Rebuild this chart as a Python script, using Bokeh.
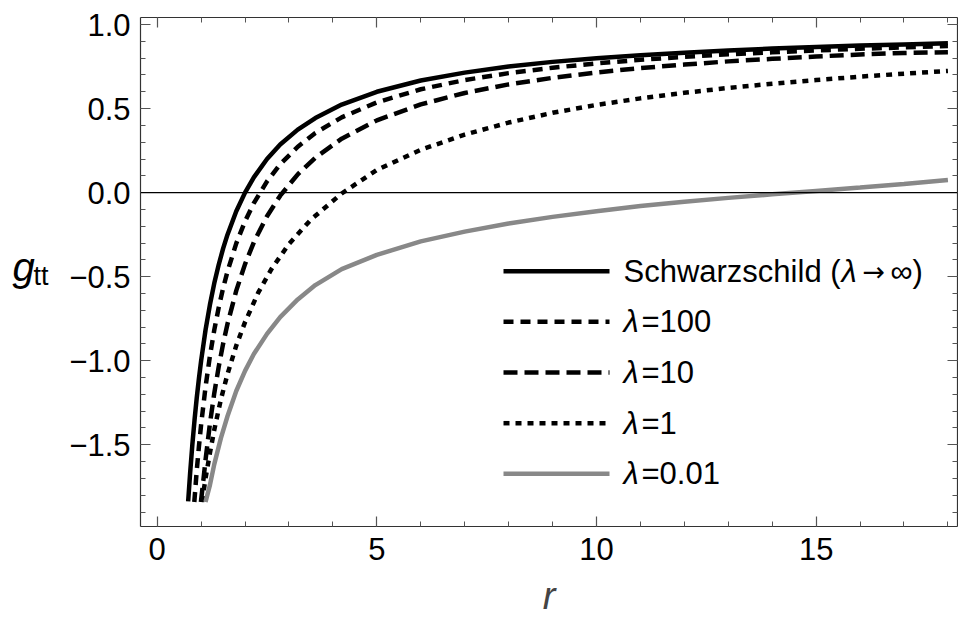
from bokeh.plotting import figure
from bokeh.layouts import row
from bokeh.models import (Range1d, LinearAxis, SingleIntervalTicker, Span, Label, Arrow,
                          CustomJSTickFormatter)
from bokeh.core.properties import value
from bokeh.embed import file_html
from bokeh.resources import INLINE

# ---- data ----
r_schw = [0.705, 0.75, 0.8, 0.85, 0.9, 0.95, 1.0, 1.1, 1.2, 1.3, 1.4, 1.5, 1.6, 1.8, 2.0,
          2.2, 2.5, 2.8, 3.2, 3.6, 4.2, 5, 6, 7, 8, 9, 10, 11, 12, 13, 14, 15, 16, 17, 18]
g_schw = [-1.837, -1.667, -1.5, -1.353, -1.222, -1.105, -1.0, -0.818, -0.667, -0.538, -0.429,
          -0.333, -0.25, -0.111, 0.0, 0.091, 0.2, 0.286, 0.375, 0.444, 0.524, 0.6, 0.667,
          0.714, 0.75, 0.778, 0.8, 0.818, 0.833, 0.846, 0.857, 0.867, 0.875, 0.882, 0.889]

r_100 = [0.845, 0.9, 0.95, 1.0, 1.1, 1.2, 1.3, 1.4, 1.5, 1.6, 1.8, 2.0, 2.2, 2.5, 2.8, 3.2,
         3.6, 4.2, 5, 6, 7, 8, 9, 10, 11, 12, 13, 14, 15, 16, 17, 18]
g_100 = [-1.84, -1.654, -1.51, -1.38, -1.157, -0.972, -0.816, -0.684, -0.569, -0.469, -0.302,
         -0.17, -0.062, 0.067, 0.169, 0.273, 0.355, 0.448, 0.537, 0.615, 0.670, 0.711, 0.743,
         0.769, 0.790, 0.808, 0.823, 0.835, 0.846, 0.856, 0.864, 0.872]

r_10 = [0.995, 1.05, 1.1, 1.2, 1.3, 1.4, 1.5, 1.6, 1.8, 2.0, 2.2, 2.5, 2.8, 3.2, 3.6, 4.2,
        5, 6, 7, 8, 9, 10, 11, 12, 13, 14, 15, 16, 17, 18]
g_10 = [-1.84, -1.714, -1.591, -1.375, -1.192, -1.036, -0.9, -0.781, -0.583, -0.425, -0.295,
        -0.14, -0.018, 0.109, 0.208, 0.321, 0.43, 0.525, 0.593, 0.644, 0.683, 0.715, 0.741,
        0.762, 0.781, 0.796, 0.81, 0.822, 0.831, 0.836]

r_1 = [1.02, 1.1, 1.2, 1.3, 1.45, 1.6, 1.8, 2.0, 2.3, 2.6, 3.0, 3.5, 4.2, 5, 6, 7, 8, 9, 10,
       11, 12, 13, 14, 15, 16, 17, 18]
g_1 = [-1.84, -1.70, -1.55, -1.41, -1.23, -1.08, -0.91, -0.77, -0.595, -0.455, -0.305, -0.16,
       -0.005, 0.135, 0.255, 0.345, 0.417, 0.475, 0.522, 0.561, 0.594, 0.623, 0.648, 0.670,
       0.690, 0.708, 0.724]

r_001 = [1.1, 1.2, 1.3, 1.45, 1.6, 1.8, 2.0, 2.2, 2.5, 2.8, 3.2, 3.6, 4.2, 5, 6, 7, 8, 9, 10,
         11, 12, 13, 14, 15, 16, 17, 18]
g_001 = [-1.84, -1.74, -1.615, -1.46, -1.33, -1.18, -1.06, -0.96, -0.84, -0.74, -0.635, -0.55,
         -0.455, -0.37, -0.29, -0.232, -0.184, -0.144, -0.11, -0.08, -0.054, -0.031, -0.01,
         0.01, 0.03, 0.052, 0.075]

lam_values = ["100", "10", "1", "0.01"]

FONT = "Liberation Sans"
H = 621
LW = 60                              # width of the strip holding the y title
W = 958 - LW
FL, FT, FB = 140, 17, 526            # frame left / top / bottom on the page

# ---- left strip with the y-axis title g_tt ----
pl = figure(width=LW, height=H, output_backend="svg", toolbar_location=None,
            x_range=Range1d(0, LW), y_range=Range1d(H, 0),
            x_axis_location=None, y_axis_location=None,
            min_border_left=0, min_border_right=0, min_border_top=0, min_border_bottom=0)
pl.grid.visible = False
pl.outline_line_color = None
pl.text(x=[12], y=[304], text=["g"], text_font=value(FONT), text_font_style="italic",
        text_font_size="40px", text_baseline="middle", text_align="left", text_color="black")
pl.text(x=[33], y=[315], text=["tt"], text_font=value(FONT), text_font_size="27px",
        text_baseline="middle", text_align="left", text_color="black")

# ---- main plot ----
p = figure(width=W, height=H, output_backend="svg", toolbar_location=None,
           x_range=Range1d(-0.380, 18.218), y_range=Range1d(-1.986, 1.042),
           x_axis_location=None, y_axis_location=None,
           min_border_left=FL - LW, min_border_right=1, min_border_top=FT,
           min_border_bottom=H - FB)
p.grid.visible = False
p.outline_line_color = None
p.background_fill_color = "white"
p.border_fill_color = "white"


def style_axis(ax, labels_on):
    ax.axis_line_color = "#333333"
    ax.axis_line_width = 1.2
    ax.major_tick_in = 10
    ax.major_tick_out = 0
    ax.minor_tick_in = 5
    ax.minor_tick_out = 0
    ax.major_tick_line_color = "#555555"
    ax.minor_tick_line_color = "#555555"
    ax.major_tick_line_width = 1.2
    ax.minor_tick_line_width = 1.0
    if labels_on:
        ax.major_label_text_font = FONT
        ax.major_label_text_font_size = "31px"
        ax.major_label_text_color = "black"
    else:
        ax.major_label_text_font_size = "0px"
        ax.major_label_standoff = 0
        ax.formatter = CustomJSTickFormatter(code="return '';")


xb = LinearAxis(ticker=SingleIntervalTicker(interval=5, num_minor_ticks=5))
style_axis(xb, True)
xb.major_label_standoff = 11
xb.axis_label = "r"
xb.axis_label_text_font = FONT
xb.axis_label_text_font_style = "italic"
xb.axis_label_text_font_size = "38px"
xb.axis_label_standoff = 12
p.add_layout(xb, "below")

xt = LinearAxis(ticker=SingleIntervalTicker(interval=5, num_minor_ticks=5))
style_axis(xt, False)
p.add_layout(xt, "above")

yl = LinearAxis(ticker=SingleIntervalTicker(interval=0.5, num_minor_ticks=5),
                formatter=CustomJSTickFormatter(code="return tick.toFixed(1).replace('-', '\u2212');"))
style_axis(yl, True)
yl.major_label_standoff = 10
p.add_layout(yl, "left")

yr = LinearAxis(ticker=SingleIntervalTicker(interval=0.5, num_minor_ticks=5))
style_axis(yr, False)
p.add_layout(yr, "right")

p.add_layout(Span(location=0, dimension="width", line_color="black", line_width=1.3))

styles = [dict(line_color="black", line_width=4.5),
          dict(line_color="black", line_width=4.5, line_dash="10 7"),
          dict(line_color="black", line_width=4.5, line_dash="14 7"),
          dict(line_color="black", line_width=4.5, line_dash="6 6"),
          dict(line_color="#888888", line_width=4.5)]

for rr, gg, st in zip([r_schw, r_100, r_10, r_1, r_001],
                      [g_schw, g_100, g_10, g_1, g_001], styles):
    p.line(rr, gg, **st)


# ---- screen-positioned legend text (units relative to frame bottom-left) ----
def put_text(px, py, text, size="31px", style="normal", font=FONT):
    p.add_layout(Label(x=px - FL, y=FB - py, x_units="screen", y_units="screen",
                       text=text, text_font=font, text_font_style=style,
                       text_font_size=size, text_baseline="middle",
                       text_align="left", text_color="black"))


row_y = [270.7, 321.3, 372.0, 422.7, 473.3]
for yy, st in zip(row_y, styles):
    p.add_layout(Arrow(x_start=503 - FL, y_start=FB - yy, x_end=609 - FL, y_end=FB - yy,
                       start_units="screen", end_units="screen", start=None, end=None,
                       **st))

put_text(623, row_y[0], "Schwarzschild (")
put_text(841, row_y[0], "\u03bb", style="italic")
put_text(862, row_y[0], "\u2192", font="DejaVu Sans", size="27px")
put_text(890, row_y[0], "\u221e)")
for yy, lv in zip(row_y[1:], lam_values):
    put_text(623, yy, "\u03bb", style="italic")
    put_text(641, yy, "=" + lv)

layout = row(pl, p)
open("out.html", "w").write(file_html(layout, INLINE))
